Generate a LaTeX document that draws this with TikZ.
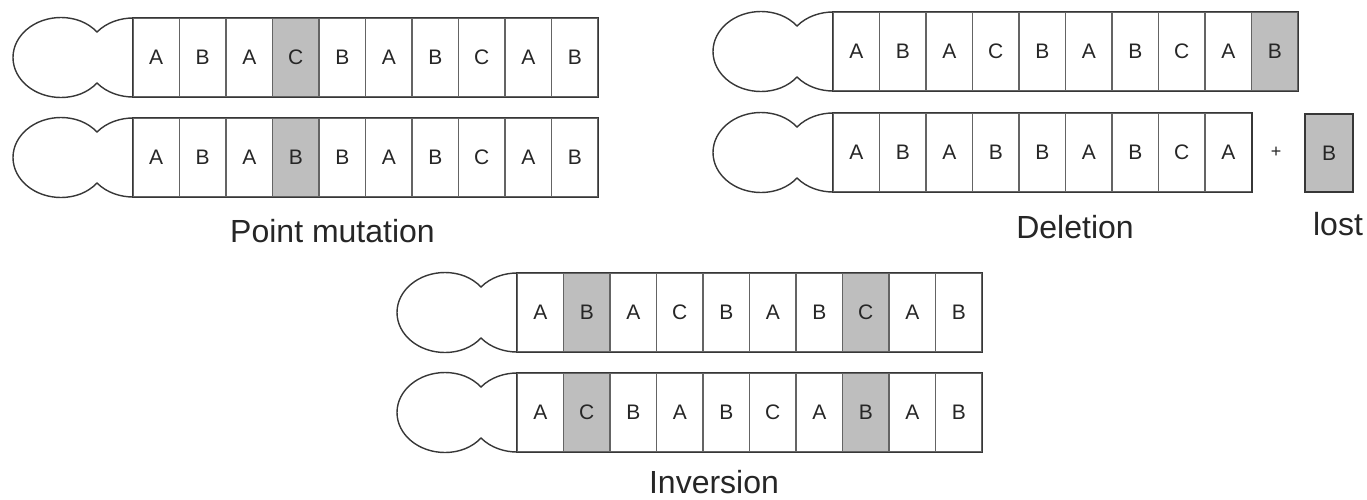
\documentclass[tikz,border=0pt]{standalone}
\usepackage{fontspec}
\setmainfont{Liberation Sans}
\definecolor{shade}{RGB}{190,190,190}
\definecolor{outl}{RGB}{55,55,55}
\definecolor{divl}{RGB}{100,100,100}
\tikzset{
  cell/.style={draw=divl, line width=1.2pt, fill=white, minimum width=46.5pt,
    minimum height=79pt, inner sep=0pt, font=\fontsize{21}{21}\selectfont, text=black!85},
  hit/.style={fill=shade},
  plain/.style={},
  outline/.style={draw=outl, line width=1.4pt},
  caption/.style={font=\fontsize{32}{32}\selectfont, anchor=base, text=black!85, inner sep=1pt},
}
% #1 name, #2 x, #3 y, #4 cells (letter/style), #5 number of cells
\newcommand\chromo[5]{%
  \begin{scope}[shift={(#2,#3)}]
    \draw[outline, fill=white] (0,0) .. controls (-12,0) and (-26,4) .. (-36,14)
      .. controls (-45.1,4.4) and (-58.2,-0.5) .. (-72,-0.5)
      .. controls (-98.5,-0.5) and (-120,17.4) .. (-120,39.5)
      .. controls (-120,61.6) and (-98.5,79.5) .. (-72,79.5)
      .. controls (-58.2,79.5) and (-45.1,74.6) .. (-36,65)
      .. controls (-26,75) and (-12,79) .. (0,79);
    \foreach \L/\s [count=\i] in {#4} {
      \node[cell, \s] (#1c\i) at ({(\i-0.5)*46.5},39.5) {\L};
    }
    \draw[outline] (#1c1.north west) rectangle (#1c#5.south east);
  \end{scope}
}
\begin{document}
\begin{tikzpicture}[x=1pt, y=-1pt]
  \useasboundingbox (0,0) rectangle (1367,499);
  % Point mutation
  \chromo{pma}{133}{18}{A/plain,B/plain,A/plain,C/hit,B/plain,A/plain,B/plain,C/plain,A/plain,B/plain}{10}
  \chromo{pmb}{133}{118}{A/plain,B/plain,A/plain,B/hit,B/plain,A/plain,B/plain,C/plain,A/plain,B/plain}{10}
  \node[caption] (cappm) at (332.5,242) {Point mutation};
  % Deletion
  \chromo{dea}{833}{12}{A/plain,B/plain,A/plain,C/plain,B/plain,A/plain,B/plain,C/plain,A/plain,B/hit}{10}
  \chromo{deb}{833}{113}{A/plain,B/plain,A/plain,B/plain,B/plain,A/plain,B/plain,C/plain,A/plain}{9}
  \node[font=\fontsize{18}{18}\selectfont, text=black!85] (plus) at (1276,152) {+};
  \node[cell, hit, draw=outl, line width=1.4pt, minimum width=48pt, minimum height=78pt] (lostbox) at (1329,153) {B};
  \node[caption] (capdel) at (1075,238) {Deletion};
  \node[caption] (caplost) at (1338,235) {lost};
  % Inversion
  \chromo{ina}{517}{273}{A/plain,B/hit,A/plain,C/plain,B/plain,A/plain,B/plain,C/hit,A/plain,B/plain}{10}
  \chromo{inb}{517}{373}{A/plain,C/hit,B/plain,A/plain,B/plain,C/plain,A/plain,B/hit,A/plain,B/plain}{10}
  \node[caption] (capinv) at (714,493) {Inversion};
\end{tikzpicture}
\end{document}
